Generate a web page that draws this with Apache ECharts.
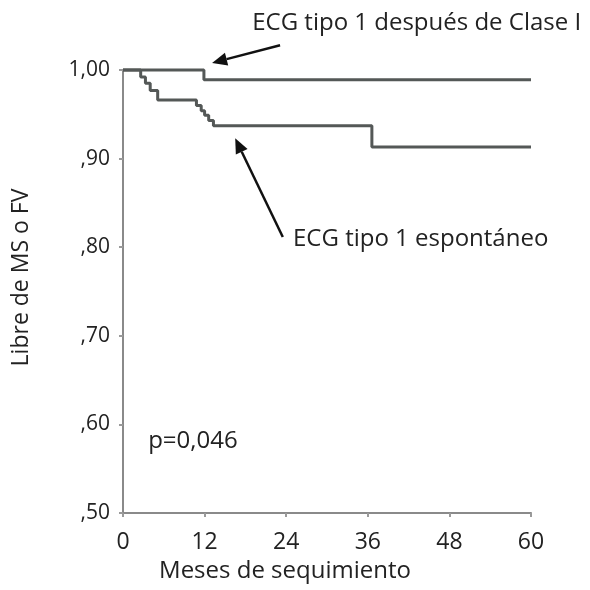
<!DOCTYPE html>
<html><head><meta charset="utf-8">
<script src="https://cdn.jsdelivr.net/npm/echarts@6/dist/echarts.min.js"></script>
<style>html,body{margin:0;padding:0;background:#fff}#c{width:590px;height:590px}</style>
</head><body><div id="c"></div>
<script>
// Months of follow-up (x) and event-free survival (y)
const xTicks = [0, 12, 24, 36, 48, 60];
const yTickLabels = {0.5: ',50', 0.6: ',60', 0.7: ',70', 0.8: ',80', 0.9: ',90', 1.0: '1,00'};
const claseMonths = [0, 11.9, 60];
const claseSurv   = [1.0, 0.989, 0.989];
const espMonths = [0, 2.6, 3.3, 4.0, 5.1, 10.8, 11.5, 12.0, 12.6, 13.3, 36.6, 60];
const espSurv   = [1.0, 0.992, 0.985, 0.977, 0.966, 0.960, 0.954, 0.949, 0.943, 0.937, 0.913, 0.913];
const labelClase = 'ECG tipo 1 después de Clase I';
const labelEsp = 'ECG tipo 1 espontáneo';
const pText = 'p=0,046';
// annotation anchor points in data units: [tail, head]
const arrowClase = [[23.1, 1.028], [13.1, 1.008]];
const arrowEsp = [[23.5, 0.8115], [16.5, 0.923]];
const labelClasePos = [19.0, 1.0525];
const labelEspPos = [25.0, 0.809];
const pPos = [3.7, 0.581];

const FONT = '"Open Sans", "Noto Sans", sans-serif';
const lineColor = '#545857';
const chart = echarts.init(document.getElementById('c'), null, {renderer: 'canvas'});
const zip = (a, b) => a.map((v, i) => [v, b[i]]);
chart.setOption({
  animation: false,
  grid: {left: 123, right: 59, top: 70, bottom: 77},
  xAxis: {
    type: 'value', min: 0, max: 60, interval: 12,
    name: 'Meses de sequimiento', nameLocation: 'middle', nameGap: 42,
    nameTextStyle: {fontFamily: FONT, fontSize: 24, color: '#222', padding: [0, 84, 0, 0]},
    axisLine: {lineStyle: {color: '#8a8a8a', width: 2}},
    axisTick: {show: true, length: 4, lineStyle: {color: '#9a9a9a', width: 2}},
    axisLabel: {fontFamily: FONT, fontSize: 23, color: '#222', margin: 18,
      formatter: v => xTicks.includes(v) ? String(v) : ''},
    splitLine: {show: false}
  },
  yAxis: {
    type: 'value', min: 0.5, max: 1.0, interval: 0.1,
    name: 'Libre de MS o FV', nameLocation: 'middle', nameGap: 90, nameRotate: 90,
    nameTextStyle: {fontFamily: FONT, fontSize: 23, color: '#222', padding: [0, 0, 0, 28]},
    axisLine: {show: true, lineStyle: {color: '#8a8a8a', width: 2}},
    axisTick: {show: true, length: 4, lineStyle: {color: '#9a9a9a', width: 2}},
    axisLabel: {fontFamily: FONT, fontSize: 21, color: '#222', margin: 13,
      formatter: v => yTickLabels[Math.round(v * 10) / 10] || ''},
    splitLine: {show: false}
  },
  series: [
    {type: 'line', step: 'end', data: zip(claseMonths, claseSurv), symbol: 'none',
     lineStyle: {color: lineColor, width: 3}, clip: false},
    {type: 'line', step: 'end', data: zip(espMonths, espSurv), symbol: 'none',
     lineStyle: {color: lineColor, width: 3}, clip: false}
  ]
});
function px(p) { return chart.convertToPixel({gridIndex: 0}, p); }
function arrow(pair) {
  const t = px(pair[0]), h = px(pair[1]);
  const ang = Math.atan2(h[1] - t[1], h[0] - t[0]);
  const L = 15, W = 6.5;
  const bx = h[0] - L * Math.cos(ang), by = h[1] - L * Math.sin(ang);
  const nx = -Math.sin(ang), ny = Math.cos(ang);
  return [
    {type: 'line', shape: {x1: t[0], y1: t[1], x2: bx, y2: by}, style: {stroke: '#111', lineWidth: 2.5}},
    {type: 'polygon', shape: {points: [h, [bx + nx * W, by + ny * W], [bx - nx * W, by - ny * W]]}, style: {fill: '#111'}}
  ];
}
function label(text, pos, size) {
  const p = px(pos);
  return {type: 'text', x: p[0], y: p[1], style: {text: text, fill: '#222', font: size + 'px ' + FONT, textAlign: 'left', textVerticalAlign: 'middle'}};
}
chart.setOption({graphic: [].concat(
  arrow(arrowClase), arrow(arrowEsp),
  [label(labelClase, labelClasePos, 24), label(labelEsp, labelEspPos, 24), label(pText, pPos, 24)]
)});
</script></body></html>
